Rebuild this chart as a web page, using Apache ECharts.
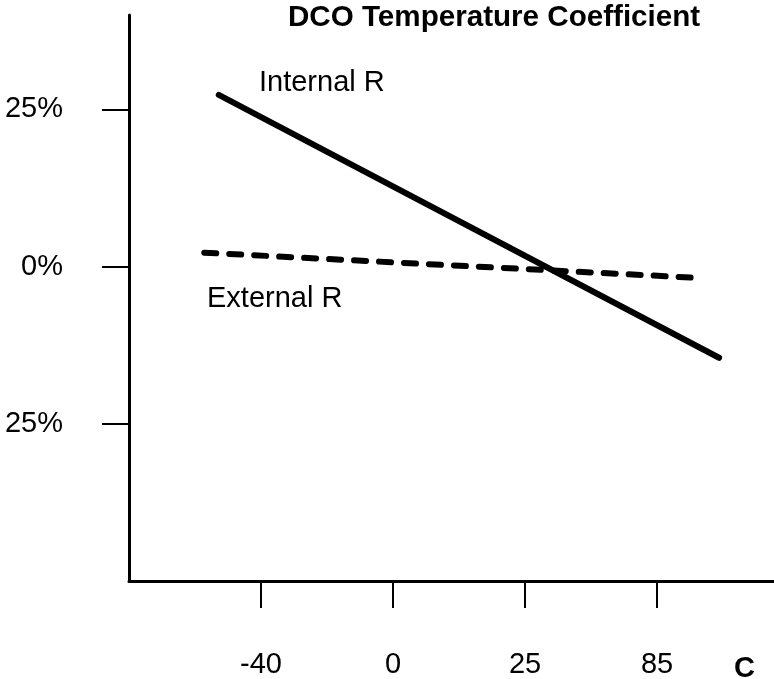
<!DOCTYPE html>
<html>
<head>
<meta charset="utf-8">
<title>DCO Temperature Coefficient</title>
<script src="https://cdn.jsdelivr.net/npm/echarts@6/dist/echarts.min.js"></script>
<style>
  html, body { margin: 0; padding: 0; background: #fff; }
  #chart { width: 774px; height: 679px; }
</style>
</head>
<body>
<div id="chart"></div>
<script>
// Temperature points sit on an ordinal scale: tick i is drawn at position i.
const tempCategories = ['-40', '0', '25', '85'];
const tempPositions = [0, 1, 2, 3];

// Frequency drift (%) tick values and their printed labels.
const driftTicks = [-25, 0, 25];
const driftTickLabels = ['25%', '0%', '25%'];

// Trend lines, as [ordinal temperature position, drift %].
const internalX = [-0.32, 3.47];
const internalY = [27.3, -14.5];
const externalX = [-0.43, 3.31];
const externalY = [2.2, -1.8];

const FONT = '"Liberation Sans", Arial, Helvetica, sans-serif';
const SIZE = 29;

const chart = echarts.init(document.getElementById('chart'), null, { renderer: 'canvas' });

const pair = (xs, ys) => xs.map((x, i) => [x, ys[i]]);

chart.setOption({
  animation: false,
  backgroundColor: '#ffffff',
  title: {
    text: 'DCO Temperature Coefficient',
    left: 288,
    top: 3,
    padding: 0,
    textStyle: { fontFamily: FONT, fontSize: 29.6, fontWeight: 'bold', color: '#000' }
  },
  grid: { left: 129, right: 0, top: 15, bottom: 96, containLabel: false },
  xAxis: {
    type: 'value',
    min: -1,
    max: 3.886,
    splitLine: { show: false },
    axisLine: { show: true, onZero: false, lineStyle: { color: '#000', width: 3 } },
    axisTick: {
      show: true,
      customValues: tempPositions,
      length: 27,
      lineStyle: { color: '#000', width: 2 }
    },
    axisLabel: {
      customValues: tempPositions,
      margin: 69,
      fontFamily: FONT,
      fontSize: SIZE,
      color: '#000',
      formatter: v => tempCategories[Math.round(v)] ?? ''
    }
  },
  yAxis: {
    type: 'value',
    min: -50,
    max: 40,
    splitLine: { show: false },
    axisLine: { show: true, onZero: false, lineStyle: { color: '#000', width: 3 } },
    axisTick: {
      show: true,
      customValues: driftTicks,
      length: 27,
      lineStyle: { color: '#000', width: 2 }
    },
    axisLabel: {
      customValues: driftTicks,
      margin: 66,
      fontFamily: FONT,
      fontSize: SIZE,
      color: '#000',
      formatter: v => {
        const i = driftTicks.indexOf(v);
        return i >= 0 ? driftTickLabels[i] : '';
      }
    }
  },
  series: [
    {
      name: 'Internal R',
      type: 'line',
      data: pair(internalX, internalY),
      symbol: 'none',
      lineStyle: { color: '#000', width: 6, cap: 'round' }
    },
    {
      name: 'External R',
      type: 'line',
      data: pair(externalX, externalY),
      symbol: 'none',
      lineStyle: { color: '#000', width: 6, type: [12, 13], cap: 'round' }
    }
  ],
  graphic: [
    {
      type: 'text', left: 259, top: 68,
      style: { text: 'Internal R', fill: '#000', font: SIZE + 'px ' + FONT }
    },
    {
      type: 'text', left: 207, top: 284,
      style: { text: 'External R', fill: '#000', font: SIZE + 'px ' + FONT }
    },
    {
      type: 'text', left: 734, top: 654,
      style: { text: 'C', fill: '#000', font: 'bold ' + SIZE + 'px ' + FONT }
    }
  ]
});
</script>
</body>
</html>
